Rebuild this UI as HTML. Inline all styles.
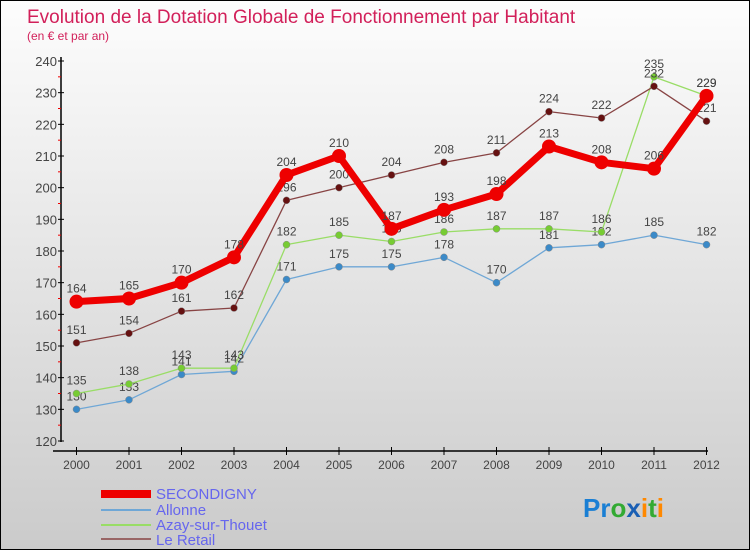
<!DOCTYPE html>
<html><head><meta charset="utf-8"><style>
body{margin:0;}
#wrap{width:748px;height:548px;border:1px solid #000;background:linear-gradient(#fdfdfd,#cbcbcb);position:relative;overflow:hidden;font-family:"Liberation Sans",sans-serif;}
svg text{font-family:"Liberation Sans",sans-serif;}
</style></head><body>
<div id="wrap">
<svg id="chart" width="748" height="548">
<text x="26" y="22" font-size="19" fill="#d2205a">Evolution de la Dotation Globale de Fonctionnement par Habitant</text>
<text x="26" y="39" font-size="12" fill="#d2205a">(en € et par an)</text>
<g id="plot"></g>
<g>
<rect x="100" y="489" width="50" height="8" fill="#e00"/>
<text x="155" y="498" font-size="15" fill="#6666ee">SECONDIGNY</text>
<line x1="100" y1="509" x2="150" y2="509" stroke="#6fa7d6" stroke-width="2"/>
<text x="155" y="514" font-size="15" fill="#6666ee">Allonne</text>
<line x1="100" y1="524" x2="150" y2="524" stroke="#99dd66" stroke-width="2"/>
<text x="155" y="529" font-size="15" fill="#6666ee">Azay-sur-Thouet</text>
<line x1="100" y1="538" x2="150" y2="538" stroke="#996666" stroke-width="2"/>
<text x="155" y="544" font-size="15" fill="#6666ee">Le Retail</text>
</g>
<g font-size="26" font-weight="bold">
<text x="582" y="516"><tspan fill="#1a7fd4">Pr</tspan><tspan fill="#33aa33">o</tspan><tspan fill="#1a5fb4">x</tspan><tspan fill="#ff8800">i</tspan><tspan fill="#33aa33">t</tspan><tspan fill="#ff8800">i</tspan></text>
</g>
</svg>
</div>
<script>
const years=[2000,2001,2002,2003,2004,2005,2006,2007,2008,2009,2010,2011,2012];
const secondigny=[164,165,170,178,204,210,187,193,198,213,208,206,229];
const allonne=[130,133,141,142,171,175,175,178,170,181,182,185,182];
const azay=[135,138,143,143,182,185,183,186,187,187,186,235,229];
const leRetail=[151,154,161,162,196,200,204,208,211,224,222,232,221];
const yTicks=[120,130,140,150,160,170,180,190,200,210,220,230,240];
const NS="http://www.w3.org/2000/svg";
const g=document.getElementById('plot');
function X(i){return 75.5+i*(705.5-75.5)/(years.length-1);}
function Y(v){return 440-(v-120)*(440-60)/120;}
function mk(t,a){const e=document.createElementNS(NS,t);for(const k in a)e.setAttribute(k,a[k]);g.appendChild(e);return e;}
let e=mk('line',{x1:60,y1:56,x2:60,y2:441,stroke:'#000','stroke-width':1.5});

e=mk('line',{x1:52,y1:450,x2:707,y2:450,stroke:'#000','stroke-width':1.5});

yTicks.forEach((v,i)=>{
 e=mk('line',{x1:57,y1:Y(v),x2:63,y2:Y(v),stroke:'#000'});
 
 if(i<yTicks.length-1){e=mk('line',{x1:57,y1:Y(v+5),x2:60,y2:Y(v+5),stroke:'#e00'});
 }
 e=mk('text',{x:56,y:Y(v)+5,'font-size':13,fill:'#444','text-anchor':'end'});e.textContent=v;
 
});
years.forEach((y,i)=>{
 e=mk('line',{x1:X(i),y1:446,x2:X(i),y2:454,stroke:'#000'});
 
 e=mk('text',{x:X(i),y:468,'font-size':12,fill:'#444','text-anchor':'middle'});e.textContent=y;
 
});
function series(data,color,dot,w,r,name){
 e=mk('polyline',{points:data.map((v,i)=>X(i)+','+Y(v)).join(' '),fill:'none',stroke:color,'stroke-width':w,'stroke-linejoin':'round'});
 
 data.forEach((v,i)=>{
  e=mk('circle',{cx:X(i),cy:Y(v),r:r,fill:dot,stroke:'#888','stroke-width':r>4?0:0.5});
  
  e=mk('text',{x:X(i),y:Y(v)-9,'font-size':12,fill:'#444','text-anchor':'middle'});e.textContent=v;
  
 });
}
series(allonne,'#6fa7d6','#3b8ac8',1.3,3.5,'allonne');
series(azay,'#99dd66','#77cc33',1.3,3.5,'azay');
series(leRetail,'#884444','#661111',1.3,3.5,'le-retail');
series(secondigny,'#ee0000','#ee0000',7,7,'secondigny');
</script>
</body></html>
